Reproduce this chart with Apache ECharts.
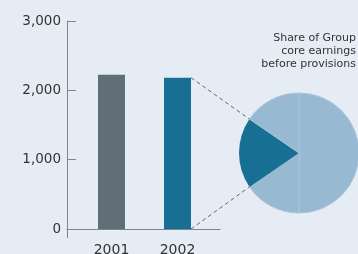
<!DOCTYPE html>
<html lang="en">
<head>
<meta charset="UTF-8">
<title>Core earnings</title>
<script src="https://cdn.jsdelivr.net/npm/echarts@6/dist/echarts.min.js"></script>
<style>
  html, body { margin: 0; padding: 0; background: #e6ecf4; }
  #cc { width: 358px; height: 254px; }
</style>
</head>
<body>
<div id="cc"></div>
<script>
// bar chart: group core earnings
var years = ['2001', '2002'];
var earnings = [2226, 2183];
var yTicks = [0, 1000, 2000, 3000];

// pie: share of group core earnings (clockwise from 12 o'clock)
var shareNames = ['rest-right', 'rest-lower', 'share', 'rest-upper'];
var shareValues = [50, 15.45, 19.1, 15.45];

var titleLines = ['Share of Group', 'core earnings', 'before provisions'];

var axisGrey = '#7b8691';
var light = '#97b9d2';
var dark = '#176f94';
var yMin = yTicks[0], yMax = yTicks[yTicks.length - 1];

var chart = echarts.init(document.getElementById('cc'));

chart.setOption({
    backgroundColor: '#e6ecf4',
    animation: false,
    textStyle: { fontFamily: 'DejaVu Sans' },
    grid: [
        // frame: axis lines, ticks and value labels
        { left: 67, right: 138, top: 21, bottom: 25, outerBoundsMode: 'none' },
        // bars sit a bit inside the frame
        { left: 78.5, right: 147.5, top: 21, bottom: 25, outerBoundsMode: 'none' }
    ],
    xAxis: [{
        gridIndex: 0,
        type: 'value',
        min: 0, max: 1,
        splitLine: { show: false },
        axisLabel: { show: false },
        axisLine: { lineStyle: { color: axisGrey } },
        axisTick: { show: true, length: 9, customValues: [0], lineStyle: { color: axisGrey } }
    }, {
        gridIndex: 1,
        type: 'category',
        data: years,
        axisLine: { show: false },
        axisTick: { show: false },
        axisLabel: { color: '#333', fontSize: 14, margin: 14 }
    }],
    yAxis: [{
        gridIndex: 0,
        type: 'value',
        min: yMin, max: yMax,
        interval: 1000,
        splitLine: { show: false },
        axisLine: { show: true, lineStyle: { color: axisGrey } },
        axisTick: { show: true, inside: true, length: 9, lineStyle: { color: axisGrey } },
        axisLabel: {
            color: '#333', fontSize: 13.5, margin: 6,
            formatter: function (v) { return v.toLocaleString('en-US'); }
        }
    }, {
        gridIndex: 1,
        type: 'value',
        min: yMin, max: yMax,
        show: false
    }],
    series: [{
        type: 'bar',
        xAxisIndex: 1,
        yAxisIndex: 1,
        barWidth: 27,
        data: earnings.map(function (v, i) {
            return { value: v, itemStyle: { color: i === 0 ? '#616e78' : dark } };
        })
    }, {
        type: 'pie',
        center: [299, 153],
        radius: 60,
        startAngle: 90,
        clockwise: true,
        label: { show: false },
        labelLine: { show: false },
        silent: true,
        data: shareNames.map(function (n, i) {
            var isShare = n === 'share';
            return {
                name: n, value: shareValues[i],
                itemStyle: {
                    color: isShare ? dark : light,
                    borderColor: isShare ? dark : '#aac6da',
                    borderWidth: isShare ? 0 : 1
                }
            };
        })
    }],
    graphic: [{
        id: 'pieTitle',
        type: 'text',
        x: 356,
        y: 32,
        style: {
            text: titleLines.join('\n'),
            align: 'right',
            verticalAlign: 'top',
            fill: '#333',
            font: '11px "DejaVu Sans"',
            lineHeight: 13
        }
    }]
});

// dashed connectors from the 2002 bar to the edges of the highlighted slice
function drawConnectors() {
    var top = chart.convertToPixel({ seriesIndex: 0 }, [1, earnings[1]]);
    var base = chart.convertToPixel({ seriesIndex: 0 }, [1, 0]);
    var barRight = top[0] + 13.5;
    var total = shareValues.reduce(function (a, b) { return a + b; }, 0);
    var before = shareValues[0] + shareValues[1];
    // angles measured clockwise from 12 o'clock
    var a1 = before / total * 2 * Math.PI;
    var a2 = (before + shareValues[2]) / total * 2 * Math.PI;
    var cx = 299, cy = 153, r = 60;
    function pt(a) { return [cx + r * Math.sin(a), cy - r * Math.cos(a)]; }
    var p1 = pt(a1), p2 = pt(a2); // p1 lower, p2 upper
    var dash = { stroke: '#5f6a74', lineWidth: 1, lineDash: [4, 3] };
    chart.setOption({
        graphic: [
            { id: 'linkTop', type: 'line', shape: { x1: barRight, y1: top[1], x2: p2[0], y2: p2[1] }, style: dash, z: 10 },
            { id: 'linkBase', type: 'line', shape: { x1: barRight, y1: base[1], x2: p1[0], y2: p1[1] }, style: dash, z: 10 }
        ]
    });
}
drawConnectors();
</script>
</body>
</html>
